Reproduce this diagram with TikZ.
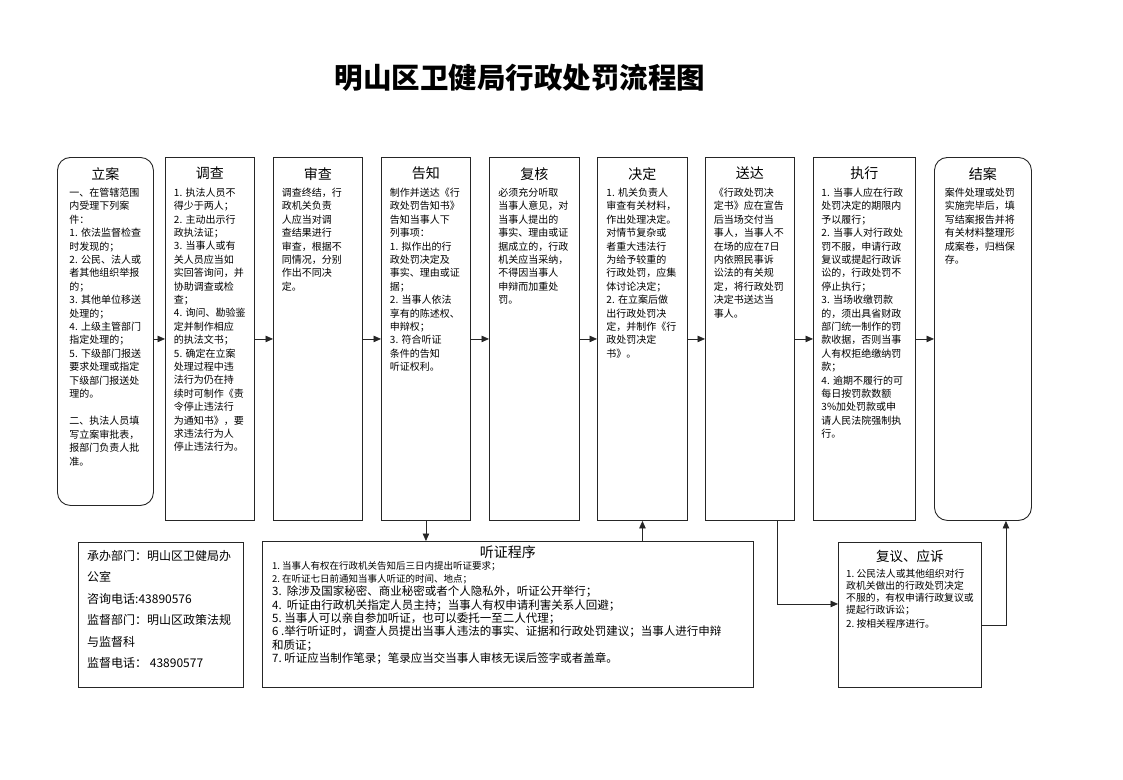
\documentclass[tikz,border=0pt]{standalone}
\usepackage{fontspec}
\setmainfont{Noto Sans CJK SC}
\usepackage{tikz}
\usetikzlibrary{arrows,arrows.meta,shapes}
\usetikzlibrary{positioning}
\tikzstyle{col}=[draw=black!85, line width=0.9pt, anchor=north west, inner sep=0,
                minimum height=363pt]
\tikzstyle{rcol}=[col, rounded corners=13pt]
\tikzstyle{head}=[inner sep=0, font=\fontsize{14}{16}\selectfont]
\tikzstyle{body}=[inner sep=0, align=left, text width=72pt,
                font=\fontsize{10}{13.4}\selectfont]

\begin{document}
\begin{tikzpicture}[x=1pt, y=-1pt, >={Triangle[length=7.5pt,width=6.5pt]}]
    \useasboundingbox (0,0) rectangle (1123,779);
    \node[font=\fontsize{28.5}{32}\selectfont\bfseries] (title) at (520,78)
      {明山区卫健局行政处罚流程图};
    % columns
    \node[rcol, minimum width=96pt, minimum height=348pt] (lian) at (57,157) {};
    \node[col, minimum width=89pt] (diaocha) at (165,157) {};
    \node[col, minimum width=89pt] (shencha) at (273,157) {};
    \node[col, minimum width=89pt] (gaozhi) at (381,157) {};
    \node[col, minimum width=90pt] (fuhe) at (489,157) {};
    \node[col, minimum width=90pt] (jueding) at (597,157) {};
    \node[col, minimum width=89pt] (songda) at (705,157) {};
    \node[col, minimum width=102pt] (zhixing) at (813,157) {};
    \node[rcol, minimum width=97pt] (jiean) at (934,157) {};
    % bottom row
    \node[col, minimum width=165pt, minimum height=145pt] (info) at (78,542) {};
    \node[col, minimum width=491pt, minimum height=146pt] (tingzheng) at (262,541) {};
    \node[col, minimum width=143pt, minimum height=145pt] (fuyi) at (838,542) {};

    \node[head, below=10pt of lian.north] (lian-h) {立案};
    \node[body, below=7.5pt of lian-h] (lian-b) {一、在管辖范围\\内受理下列案\\件：\\
      1.~依法监督检查\\时发现的；\\2.~公民、法人或\\者其他组织举报\\的；\\
      3.~其他单位移送\\处理的；\\4.~上级主管部门\\指定处理的；\\
      5.~下级部门报送\\要求处理或指定\\下级部门报送处\\理的。\\[14pt]
      二、执法人员填\\写立案审批表，\\报部门负责人批\\准。};
    \node[head, below=10pt of diaocha.north] (diaocha-h) {调查};
    \node[body, below=7.5pt of diaocha-h] (diaocha-b) {1.~执法人员不\\得少于两人；\\
      2.~主动出示行\\政执法证；\\3.~当事人或有\\关人员应当如\\实回答询问，并\\
      协助调查或检\\查；\\4.~询问、勘验鉴\\定并制作相应\\的执法文书；\\
      5.~确定在立案\\处理过程中违\\法行为仍在持\\续时可制作《责\\
      令停止违法行\\为通知书》，要\\求违法行为人\\停止违法行为。};
    \node[head, below=10pt of shencha.north] (shencha-h) {审查};
    \node[body, below=7.5pt of shencha-h] (shencha-b) {调查终结，行\\政机关负责\\
      人应当对调\\查结果进行\\审查，根据不\\同情况，分别\\作出不同决\\定。};
    \node[head, below=10pt of gaozhi.north] (gaozhi-h) {告知};
    \node[body, below=7.5pt of gaozhi-h] (gaozhi-b) {制作并送达《行\\政处罚告知书》\\
      告知当事人下\\列事项：\\1.~拟作出的行\\政处罚决定及\\事实、理由或证\\
      据；\\2.~当事人依法\\享有的陈述权、\\申辩权；\\3.~符合听证\\
      条件的告知\\听证权利。};
    \node[head, below=10pt of fuhe.north] (fuhe-h) {复核};
    \node[body, below=7.5pt of fuhe-h] (fuhe-b) {必须充分听取\\当事人意见，对\\
      当事人提出的\\事实、理由或证\\据成立的，行政\\机关应当采纳，\\
      不得因当事人\\申辩而加重处\\罚。};
    \node[head, below=10pt of jueding.north] (jueding-h) {决定};
    \node[body, below=7.5pt of jueding-h] (jueding-b) {1.~机关负责人\\审查有关材料，\\
      作出处理决定。\\对情节复杂或\\者重大违法行\\为给予较重的\\
      行政处罚，应集\\体讨论决定；\\2.~在立案后做\\出行政处罚决\\
      定，并制作《行\\政处罚决定\\书》。};
    \node[head, below=10pt of songda.north] (songda-h) {送达};
    \node[body, below=7.5pt of songda-h] (songda-b) {《行政处罚决\\定书》应在宣告\\
      后当场交付当\\事人，当事人不\\在场的应在7日\\内依照民事诉\\
      讼法的有关规\\定，将行政处罚\\决定书送达当\\事人。};
    \node[head, below=10pt of zhixing.north] (zhixing-h) {执行};
    \node[body, text width=86pt, below=7.5pt of zhixing-h] (zhixing-b)
      {1.~当事人应在行政\\处罚决定的期限内\\予以履行；\\
      2.~当事人对行政处\\罚不服，申请行政\\复议或提起行政诉\\讼的，行政处罚不\\
      停止执行；\\3.~当场收缴罚款\\的，须出具省财政\\部门统一制作的罚\\
      款收据，否则当事\\人有权拒绝缴纳罚\\款；\\4.~逾期不履行的可\\
      每日按罚款数额\\3\%加处罚款或申\\请人民法院强制执\\行。};
    \node[head, below=10pt of jiean.north] (jiean-h) {结案};
    \node[body, text width=76pt, below=7.5pt of jiean-h] (jiean-b) {案件处理或处罚\\
      实施完毕后，填\\写结案报告并将\\有关材料整理形\\成案卷，归档保\\存。};

    \node[anchor=north west, align=left, inner sep=0,
      font=\fontsize{12}{21.5}\selectfont] (info-b) at (87,550)
      {承办部门：明山区卫健局办\\公室\\咨询电话:43890576\\
      监督部门：明山区政策法规\\与监督科\\监督电话： 43890577};
    \node[head, below=4pt of tingzheng.north] (tingzheng-h) {听证程序};
    \node[anchor=north west, align=left, inner sep=0,
      font=\fontsize{11.5}{13.3}\selectfont] (tingzheng-b) at (272,561)
      {{\fontsize{9.5}{13.3}\selectfont 1.~当事人有权在行政机关告知后三日内提出听证要求；}\\
      {\fontsize{9.5}{13.3}\selectfont 2.~在听证七日前通知当事人听证的时间、地点；}\\
      3.\ \ 除涉及国家秘密、商业秘密或者个人隐私外，听证公开举行；\\
      4.\ \ 听证由行政机关指定人员主持；当事人有权申请利害关系人回避；\\
      5.~当事人可以亲自参加听证，也可以委托一至二人代理；\\
      6 .举行听证时，调查人员提出当事人违法的事实、证据和行政处罚建议；当事人进行申辩\\
      和质证；\\
      7.~听证应当制作笔录；笔录应当交当事人审核无误后签字或者盖章。};
    \node[head, font=\fontsize{13.5}{16}\selectfont, below=8pt of fuyi.north] (fuyi-h)
      {复议、应诉};
    \node[anchor=north west, align=left, inner sep=0,
      font=\fontsize{9.8}{12}\selectfont] (fuyi-b) at (846,569)
      {1.~公民法人或其他组织对行\\政机关做出的行政处罚决定\\
      不服的，有权申请行政复议或\\提起行政诉讼；\\[2pt]2.~按相关程序进行。};

    \path[->, line width=0.8pt, color=black!85]
      (lian.east |- diaocha.west) edge (diaocha.west)
      (diaocha) edge (shencha)
      (shencha) edge (gaozhi)
      (gaozhi) edge (fuhe)
      (gaozhi.south) edge (gaozhi.south |- tingzheng.north)
      (fuhe) edge (jueding)
      (jueding) edge (songda)
      (songda) edge (zhixing)
      (zhixing) edge (jiean)
      (jueding.south |- tingzheng.north) edge (jueding.south);
    \draw[->, line width=0.8pt, draw=black!85]
      ([xshift=27pt]songda.south) |- ([yshift=11pt]fuyi.west);
    \draw[->, line width=0.8pt, draw=black!85]
      ([yshift=-10pt]fuyi.east) -| ([xshift=23pt]jiean.south);
  \end{tikzpicture}
\end{document}
